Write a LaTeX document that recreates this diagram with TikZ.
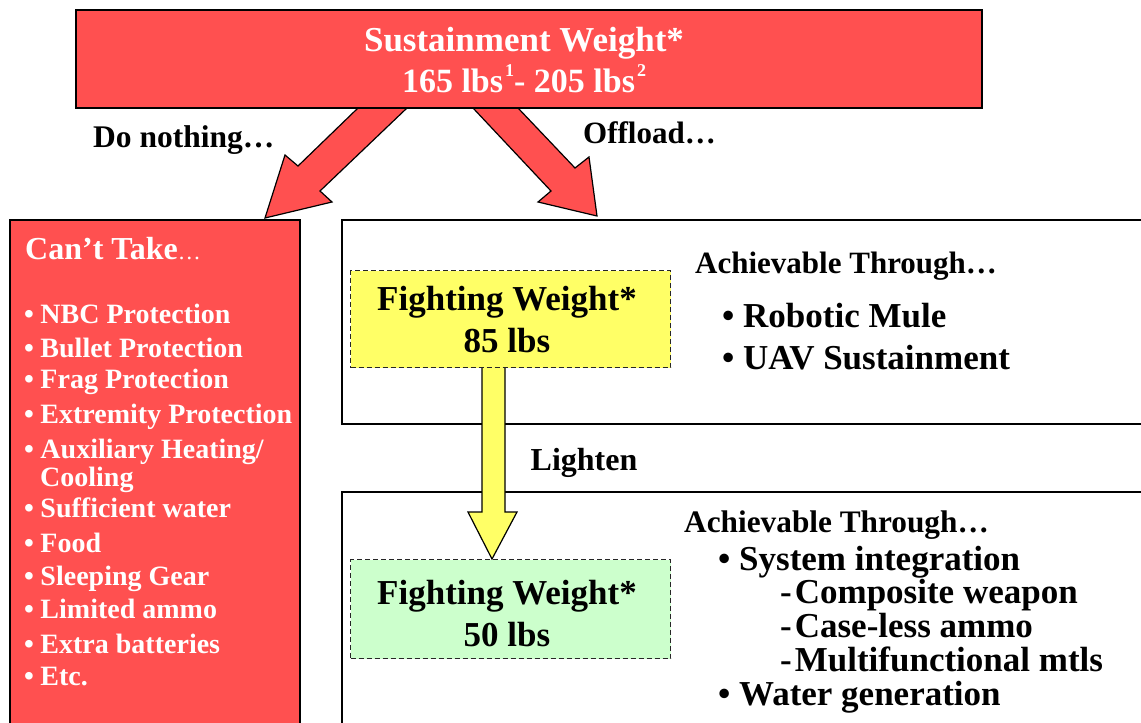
\documentclass[tikz,border=0pt]{standalone}
\usepackage{fontspec}
\setmainfont{Liberation Serif}
\definecolor{redc}{RGB}{255,80,80}
\definecolor{yellowc}{RGB}{255,255,102}
\definecolor{greenc}{RGB}{204,255,204}
\newcommand\fsz[1]{\fontsize{#1}{#1}\selectfont}
\newcommand\supx[1]{\kern2pt\raisebox{0.45em}{\fsz{18}#1}}
\begin{document}
\begin{tikzpicture}[x=1pt,y=-1pt,
  box/.style={draw=black, line width=1.5pt, inner sep=0pt, outer sep=0pt, anchor=north west},
  redbox/.style={box, fill=redc},
  whitebox/.style={box, fill=white},
  dbox/.style={draw=black!85, line width=1.4pt, dash pattern=on 5pt off 3pt, inner sep=0pt, anchor=north west},
  txt/.style={font=\bfseries, inner sep=0pt, anchor=base west},
  ctxt/.style={font=\bfseries, inner sep=0pt, anchor=base},
  blockarrow/.style={draw=black, line width=1.2pt, line join=miter}
]
\useasboundingbox (0,0) rectangle (1141,723);
\clip (0,0) rectangle (1141,723);

% boxes
\node[redbox, minimum width=290, minimum height=540] (cant) at (10,220) {};
\node[whitebox, minimum width=830, minimum height=204] (up) at (342,220) {};
\node[whitebox, minimum width=830, minimum height=260] (low) at (342,492) {};

% yellow lighten arrow
\fill[yellowc] (482,367) -- (482,512) -- (468,512) -- (492,559) -- (517,512) -- (505,512) -- (505,367) -- cycle;
\draw[blockarrow] (482,367) -- (482,512) -- (468,512) -- (492,559) -- (517,512) -- (505,512) -- (505,367);

% fighting weight boxes
\node[dbox, fill=yellowc, minimum width=320, minimum height=97] (fw1) at (350,270) {};
\node[dbox, fill=greenc, minimum width=320, minimum height=99] (fw2) at (350,559) {};

\node[font=\bfseries\fsz{32}, fill=white, inner sep=0pt, minimum width=112, minimum height=50] (lighten) at (584,463) {Lighten};

% red block arrows
\draw[blockarrow, fill=redc] (358,108) -- (298,166) -- (285,155) -- (265,218) -- (332,202) -- (320,191) -- (407,108) -- cycle;
\draw[blockarrow, fill=redc] (473,108) -- (551,191) -- (538,202) -- (597,216) -- (589,157) -- (575,168) -- (518,108) -- cycle;

% top box
\node[redbox, minimum width=906, minimum height=98] (top) at (76,10) {};
\node[ctxt, text=white, font=\bfseries\fsz{35}] (t1) at (524,51) {Sustainment Weight*};
\node[ctxt, text=white, font=\bfseries\fsz{34}] (t2) at (524,92) {165 lbs\supx{1}- 205 lbs\supx{2}};

% labels
\node[txt, font=\bfseries\fsz{31.5}] (donothing) at (93,147) {Do nothing…};
\node[txt, font=\bfseries\fsz{31}] (offload) at (583,143) {Offload…};

% left list
\begin{scope}[every node/.style={txt, text=white, font=\bfseries\fsz{28}}]
\node (ct) at (25,259) {\fsz{32}Can’t Take{\mdseries\fsz{23}…}};
\node (l1) at (24,323) {•\kern6.5pt NBC Protection};
\node (l2) at (24,357) {•\kern6.5pt Bullet Protection};
\node (l3) at (24,388) {•\kern6.5pt Frag Protection};
\node (l4) at (24,423) {•\kern6.5pt Extremity Protection};
\node (l5) at (24,458) {•\kern6.5pt Auxiliary Heating/};
\node (l5b) at (40,486) {Cooling};
\node (l6) at (24,517) {•\kern6.5pt Sufficient water};
\node (l7) at (24,552) {•\kern6.5pt Food};
\node (l8) at (24,585) {•\kern6.5pt Sleeping Gear};
\node (l9) at (24,618) {•\kern6.5pt Limited ammo};
\node (l10) at (24,653) {•\kern6.5pt Extra batteries};
\node (l11) at (24,685) {•\kern6.5pt Etc.};
\end{scope}

% fighting weight texts
\node[ctxt, font=\bfseries\fsz{35}] (f1a) at (507,310) {Fighting Weight*};
\node[ctxt, font=\bfseries\fsz{35}] (f1b) at (507,352) {85 lbs};
\node[ctxt, font=\bfseries\fsz{35}] (f2a) at (507,604) {Fighting Weight*};
\node[ctxt, font=\bfseries\fsz{35}] (f2b) at (507,646) {50 lbs};

% upper achievable
\node[txt, font=\bfseries\fsz{31}] (a1) at (695,273) {Achievable Through…};
\node[txt, font=\bfseries\fsz{35}] (a2) at (722,327) {• Robotic Mule};
\node[txt, font=\bfseries\fsz{35}] (a3) at (722,369) {• UAV Sustainment};

% lower achievable
\node[txt, font=\bfseries\fsz{31.3}] (b1) at (684,532) {Achievable Through…};
\node[txt, font=\bfseries\fsz{35}] (b2) at (718,570) {• System integration};
\node[txt, font=\bfseries\fsz{35}] (b3) at (780,603) {-\kern3pt Composite weapon};
\node[txt, font=\bfseries\fsz{35}] (b4) at (780,637) {-\kern3pt Case-less ammo};
\node[txt, font=\bfseries\fsz{35}] (b5) at (780,671) {-\kern3pt Multifunctional mtls};
\node[txt, font=\bfseries\fsz{35}] (b6) at (718,705) {• Water generation};
\end{tikzpicture}
\end{document}
